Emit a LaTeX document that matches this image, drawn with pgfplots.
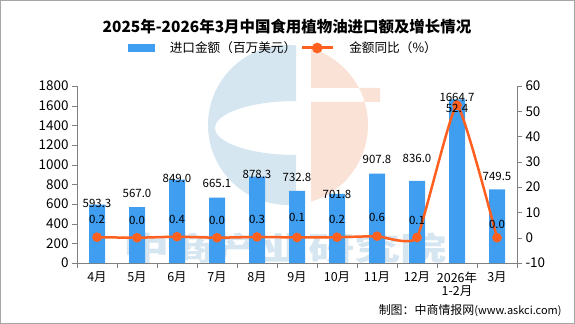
\documentclass[border=0pt]{standalone}
\usepackage{fontspec}
\setmainfont{Noto Sans CJK SC}
\usepackage{pgfplots}
\pgfplotsset{compat=1.18}
\usepackage{pgfplotstable}
\definecolor{barblue}{RGB}{64,158,240}
\definecolor{lineor}{RGB}{255,96,32}
\definecolor{wmblue}{RGB}{214,230,241}
\definecolor{wmor}{RGB}{250,226,214}
\definecolor{axgray}{RGB}{128,128,128}

% bar values and label positions (ly = label centre, in data units)
\pgfplotstableread{
x val ly lab
0 593.3 607 593.3
1 567.0 712 567.0
2 849.0 864 849.0
3 665.1 814 665.1
4 878.3 905 878.3
5 732.8 875 732.8
6 701.8 702 701.8
7 907.8 1058 907.8
8 836.0 1068 836.0
9 1664.7 1688 1664.7
10 749.5 885 749.5
}\bardata

\pgfplotstableread{
x val ly lab
0 0.2 7.3 0.2
1 0.0 7.0 0.0
2 0.4 7.3 0.4
3 0.0 7.0 0.0
4 0.3 7.4 0.3
5 0.1 8.1 0.1
6 0.2 7.4 0.2
7 0.6 8.1 0.6
8 0.1 6.7 0.1
9 52.4 51.2 52.4
10 0.0 5.4 0.0
}\growthdata

\begin{document}
\begin{tikzpicture}
\useasboundingbox (0bp,0bp) rectangle (575bp,324bp);
% watermark logo
\begin{scope}
\clip (200bp,100bp) rectangle (296bp,290bp);
\fill[wmblue,even odd rule] (288bp,199bp) circle (80bp) (296bp,196bp) ellipse (81bp and 27bp);
\end{scope}
\begin{scope}
\clip (311bp,100bp) rectangle (380bp,290bp);
\fill[wmor,even odd rule] (288bp,199bp) circle (80bp) (300bp,222bp) rectangle (380bp,236bp);
\end{scope}
\node[text=wmblue, font=\fontsize{32}{32}\selectfont\bfseries, xscale=1.45] at (285bp,76bp) {中商产业研究院};
\draw[axgray!70] (0.5bp,0.5bp) rectangle (574.5bp,323.5bp);
\node[font=\fontsize{15.5}{18}\selectfont\bfseries] at (287bp,297bp) {2025年-2026年3月中国食用植物油进口额及增长情况};
\node[anchor=east, font=\fontsize{12}{14}\selectfont] at (565bp,13bp) {制图：中商情报网{\fontsize{11}{13}\selectfont(www.askci.com)}};

\begin{axis}[
  at={(77bp,61bp)}, anchor=south west,
  scale only axis, width=440bp, height=177bp,
  xmin=-0.5, xmax=10.5, ymin=0, ymax=1800,
  axis x line*=bottom, axis y line*=left,
  axis line style={draw=axgray},
  xtick={0,...,10},
  xticklabels={4月,5月,6月,7月,8月,9月,10月,11月,12月,{2026年\\1-2月},3月},
  xticklabel style={align=center, font=\fontsize{12.5}{14}\selectfont},
  major x tick style={draw=none},
  minor xtick={-0.5,0.5,...,10.5},
  ytick={0,200,...,1800},
  yticklabel style={font=\fontsize{13.5}{15}\selectfont},
  tick align=outside, major tick length=5bp, minor tick length=5bp,
  tick style={draw=axgray},
  /pgf/number format/assume math mode=true,
  /pgf/number format/1000 sep={},
  clip=false,
]
\addplot[ybar, bar width=16bp, fill=barblue, draw=none] table[x=x,y=val] {\bardata};
\addplot[draw=none, mark=none, nodes near coords, point meta=explicit symbolic,
  every node near coord/.append style={anchor=center, font=\fontsize{11.5}{13}\selectfont, text=black}]
  table[x=x,y=ly,meta=lab] {\bardata};
\end{axis}

\begin{axis}[
  at={(77bp,61bp)}, anchor=south west,
  scale only axis, width=440bp, height=177bp,
  xmin=-0.5, xmax=10.5, ymin=-10, ymax=60,
  axis x line=none, axis y line*=right,
  axis line style={draw=axgray},
  ytick={-10,0,...,60},
  yticklabel style={font=\fontsize{13.5}{15}\selectfont},
  tick align=outside, major tick length=5bp,
  tick style={draw=axgray},
  /pgf/number format/assume math mode=true,
  clip=false,
  legend style={at={(0.4666,1.2147)}, anchor=center, draw=none, fill=none,
    inner sep=0pt, outer sep=0pt,
    nodes={inner sep=0pt, outer sep=0pt},
    font=\fontsize{12.7}{14}\selectfont,
    /tikz/every even column/.append style={column sep=4bp},
    /tikz/every odd column/.append style={column sep=15bp}},
  legend columns=2,
]
\addlegendimage{legend image code/.code={\fill[barblue] (0bp,-3.7bp) rectangle (26.6bp,3.7bp);}}
\addlegendentry{进口金额（百万美元）}
\addplot[lineor, line width=2.5bp, smooth, tension=0.25, mark=*, mark size=3.5bp,
  mark options={fill=lineor, draw=lineor},
  legend image code/.code={\draw[lineor, line width=3bp] (0bp,0bp)--(31bp,0bp); \fill[lineor] (15.5bp,0bp) circle (4bp);},
] table[x=x,y=val] {\growthdata};
\addlegendentry{金额同比（\%）}
\addplot[draw=none, mark=none, forget plot, nodes near coords, point meta=explicit symbolic,
  every node near coord/.append style={anchor=center, font=\fontsize{11.5}{13}\selectfont, text=black}]
  table[x=x,y=ly,meta=lab] {\growthdata};
\end{axis}
\end{tikzpicture}
\end{document}
